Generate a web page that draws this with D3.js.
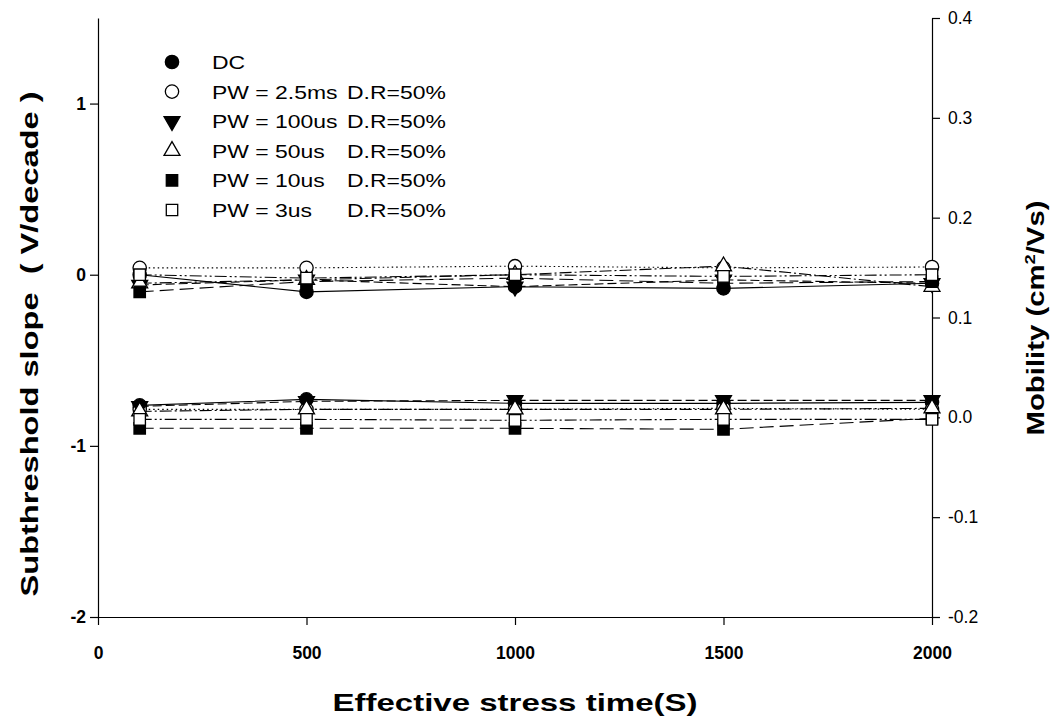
<!DOCTYPE html>
<html>
<head>
<meta charset="utf-8">
<script src="https://cdn.jsdelivr.net/npm/d3@7/dist/d3.min.js"></script>
<style>
  html, body { margin: 0; padding: 0; background: #fff; }
  svg { display: block; font-family: "Liberation Sans", Arial, sans-serif; }
</style>
</head>
<body>
<svg id="chart" width="1057" height="723"></svg>
<script>
// Stress times (s)
const stressTime = [100, 500, 1000, 1500, 2000];

// Series names (legend)
const seriesNames = ["DC", "PW = 2.5ms", "PW = 100us", "PW = 50us", "PW = 10us", "PW = 3us"];
const dutyLabel = "D.R=50%";

// Subthreshold slope (V/decade), left axis
const ssDC    = [0.00, -0.10, -0.07, -0.08, -0.05];
const ss2_5ms = [0.04,  0.04,  0.05,  0.04,  0.045];
const ss100us = [-0.06, -0.03, -0.07, -0.03, -0.05];
const ss50us  = [-0.05, -0.03,  0.00,  0.05, -0.07];
const ss10us  = [-0.10, -0.04, -0.02, -0.05, -0.04];
const ss3us   = [0.00, -0.02,  0.00, -0.01,  0.00];

// Mobility (cm2/Vs), right axis
const muDC    = [0.012, 0.018, 0.014, 0.014, 0.015];
const mu2_5ms = [0.008, 0.008, 0.008, 0.009, 0.008];
const mu100us = [0.011, 0.016, 0.017, 0.017, 0.017];
const mu50us  = [0.006, 0.008, 0.008, 0.008, 0.009];
const mu10us  = [-0.011, -0.011, -0.011, -0.012, -0.001];
const mu3us   = [-0.002, -0.002, -0.003, -0.002, -0.002];

// Tick values
const xTicks = [0, 500, 1000, 1500, 2000];
const leftTicks = [-2, -1, 0, 1];
const rightTicks = [-0.2, -0.1, 0.0, 0.1, 0.2, 0.3, 0.4];

const ssSeries = [ssDC, ss2_5ms, ss100us, ss50us, ss10us, ss3us];
const muSeries = [muDC, mu2_5ms, mu100us, mu50us, mu10us, mu3us];

// Marker shapes and fills, line dash patterns per series
const symbols = [d3.symbolCircle, d3.symbolCircle, "tri-down", d3.symbolTriangle, d3.symbolSquare, d3.symbolSquare];
const filled  = [true, false, true, false, true, false];
const dashes  = [null, "1.5,3", "9,4", "12,3,2,3", "14,6", "12,3,2,3,2,3"];

const svg = d3.select("#chart");
const L = 98, R = 932, T = 18, B = 617;

const x = d3.scaleLinear().domain([0, 2000]).range([L, R]);
const yL = d3.scaleLinear().domain([-2, 1.5]).range([B, T]);
const yR = d3.scaleLinear().domain([-0.2, 0.4]).range([B, T]);

// hyphen-minus, as in the printed labels
const hy = s => s.replace("\u2212", "-");

// Axes
svg.append("g").attr("transform", `translate(0,${B})`)
  .call(d3.axisBottom(x).tickValues(xTicks).tickSize(8).tickSizeOuter(0).tickPadding(22).tickFormat(d3.format("d")))
  .call(g => g.selectAll("text").attr("font-size", 17.5).attr("font-weight", "bold").attr("fill", "#000"));
svg.append("g").attr("transform", `translate(${L},0)`)
  .call(d3.axisLeft(yL).tickValues(leftTicks).tickSize(8).tickSizeOuter(0).tickPadding(4).tickFormat(d => hy(d3.format("d")(d))))
  .call(g => g.selectAll("text").attr("font-size", 17.5).attr("font-weight", "bold").attr("fill", "#000"));
svg.append("g").attr("transform", `translate(${R},0)`)
  .call(d3.axisRight(yR).tickValues(rightTicks).tickSize(8).tickSizeOuter(0).tickPadding(8).tickFormat(d => hy(d3.format(".1f")(d))))
  .call(g => g.selectAll("text").attr("font-size", 17.5).attr("fill", "#000"));
svg.selectAll(".domain").attr("stroke", "#000").attr("stroke-width", 1.2);
svg.selectAll(".tick line").attr("stroke", "#000").attr("stroke-width", 1.2);

// Axis titles
svg.append("text").attr("x", (L + R) / 2).attr("y", 711).attr("text-anchor", "middle")
  .attr("font-size", 24).attr("font-weight", "bold")
  .attr("textLength", 365).attr("lengthAdjust", "spacingAndGlyphs")
  .text("Effective stress time(S)");
svg.append("text").attr("transform", "translate(38,344) rotate(-90)").attr("text-anchor", "middle")
  .attr("font-size", 24).attr("font-weight", "bold")
  .attr("textLength", 505).attr("lengthAdjust", "spacingAndGlyphs")
  .attr("xml:space", "preserve")
  .text("Subthreshold slope  ( V/decade )");
const rt = svg.append("text").attr("transform", "translate(1044,318) scale(1,1) rotate(-90)").attr("text-anchor", "middle")
  .attr("font-size", 24).attr("font-weight", "bold");
rt.append("tspan").text("Mobility (cm");
rt.append("tspan").attr("dy", -9).attr("font-size", 15).text("2");
rt.append("tspan").attr("dy", 9).text("/Vs)");
// stretch the right title to its printed length
{
  const bb = rt.node().getBBox();
  const k = 235 / bb.width;
  rt.attr("transform", `translate(1044,318) rotate(-90) scale(${k},1)`);
}

function symbolPath(i, size) {
  if (symbols[i] === "tri-down") return d3.symbol().type(d3.symbolTriangle).size(size)();
  return d3.symbol().type(symbols[i]).size(size)();
}
const symSize = [140, 140, 110, 110, 130, 130];
function drawMarker(g, i, cx, cy) {
  const rot = symbols[i] === "tri-down" ? " rotate(180)" : "";
  g.append("path").attr("d", symbolPath(i, symSize[i]))
    .attr("transform", `translate(${cx},${cy})${rot}`)
    .attr("fill", filled[i] ? "#000" : "#fff")
    .attr("stroke", "#000").attr("stroke-width", 1.3);
}

const plot = svg.append("g");
function drawGroup(seriesList, yScale) {
  seriesList.forEach((vals, i) => {
    const line = d3.line().x((d, j) => x(stressTime[j])).y(d => yScale(d));
    plot.append("path").datum(vals).attr("d", line)
      .attr("fill", "none").attr("stroke", "#000").attr("stroke-width", 1.1)
      .attr("stroke-dasharray", dashes[i]);
  });
  seriesList.forEach((vals, i) => {
    const g = plot.append("g");
    vals.forEach((v, j) => drawMarker(g, i, x(stressTime[j]), yScale(v)));
  });
}
drawGroup(ssSeries, yL);
drawGroup(muSeries, yR);

// Legend (text printed slightly wide)
const lg = svg.append("g");
const legendText = (tx, ty, s) => lg.append("text")
  .attr("transform", `translate(${tx},${ty}) scale(1.24,1)`)
  .attr("font-size", 18.5).text(s);
seriesNames.forEach((name, i) => {
  const cy = 62 + i * 29.6;
  drawMarker(lg, i, 172, cy);
  legendText(212, cy + 7, name);
  if (i > 0) legendText(347, cy + 7, dutyLabel);
});
</script>
</body>
</html>
